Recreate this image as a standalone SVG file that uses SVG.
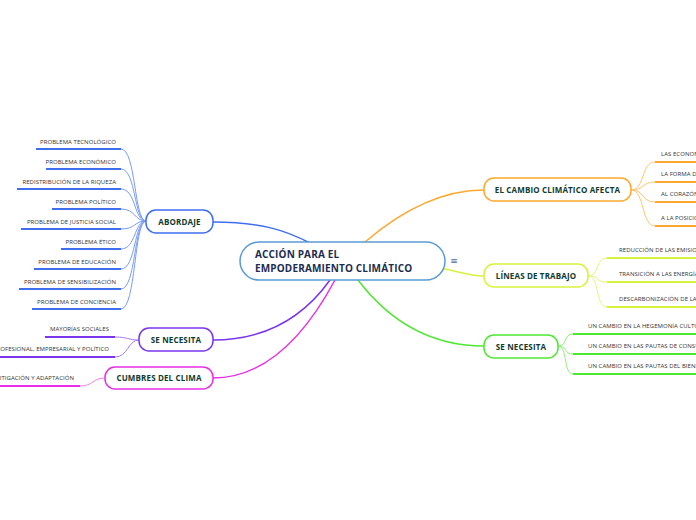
<svg xmlns="http://www.w3.org/2000/svg" width="696" height="520" viewBox="0 0 696 520">
<style>
.node{fill:#fff;stroke-width:1.5}
.nt{font-family:"Open Sans","Noto Sans",sans-serif;font-weight:bold;font-size:8px;fill:#0f3b2e;text-anchor:middle;letter-spacing:0.15px}
.lt{font-family:"Open Sans","Noto Sans",sans-serif;font-size:6px;fill:#333;letter-spacing:0.05px}
.le{text-anchor:end}
.ul{fill:none;stroke-width:2}
.c{fill:none}
.ct{font-family:"Open Sans","Noto Sans",sans-serif;font-weight:bold;font-size:10px;fill:#1c2d4f;letter-spacing:0.15px}
</style>
<rect width="696" height="520" fill="#fff"/>
<g id="connectors">
  <path class="c" d="M310,243 C285,230 260,222 213,222" stroke="#3f6ef0" stroke-width="1.5"/>
  <path class="c" d="M365,242 C400,212 440,190 484,190" stroke="#ffa82e" stroke-width="1.5"/>
  <path class="c" d="M440,268 C460,272 470,276 484,276" stroke="#d8f23a" stroke-width="1.5"/>
  <path class="c" d="M358,280 C390,322 430,346 484,346" stroke="#4de830" stroke-width="1.5"/>
  <path class="c" d="M330,280 C300,322 260,340 213,340" stroke="#7a35ee" stroke-width="1.5"/>
  <path class="c" d="M335,280 C300,345 260,378 213,378" stroke="#e82ee6" stroke-width="1.5"/>
  <g stroke="#7b9cf6" stroke-width="1" fill="none">
    <path d="M121,149 C136,149 134,221 146,221"/>
    <path d="M121,169 C136,169 134,221 146,221"/>
    <path d="M121,189 C136,189 134,221 146,221"/>
    <path d="M121,209 C136,209 134,221 146,221"/>
    <path d="M121,229 C136,229 134,221 146,221"/>
    <path d="M121,249 C136,249 134,221 146,221"/>
    <path d="M121,269 C136,269 134,221 146,221"/>
    <path d="M121,289 C136,289 134,221 146,221"/>
    <path d="M121,309 C136,309 134,221 146,221"/>
  </g>
  <g stroke="#a67cf2" stroke-width="1" fill="none">
    <path d="M115,337 C128,337 128,340 139,340"/>
    <path d="M115,357 C128,357 128,340 139,340"/>
  </g>
  <path class="c" d="M80,386 C93,386 93,378 105,378" stroke="#f07ef0" stroke-width="1"/>
  <g stroke="#ffc56e" stroke-width="1" fill="none">
    <path d="M631,190 C645,190 641,162 655,162"/>
    <path d="M631,190 C645,190 641,182 655,182"/>
    <path d="M631,190 C645,190 641,202 655,202"/>
    <path d="M631,190 C645,190 641,226 655,226"/>
  </g>
  <g stroke="#e4f77a" stroke-width="1" fill="none">
    <path d="M588,276 C600,276 595,258 607,258"/>
    <path d="M588,276 C600,276 595,282 607,282"/>
    <path d="M588,276 C600,276 595,307 607,307"/>
  </g>
  <g stroke="#8ef07a" stroke-width="1" fill="none">
    <path d="M558,346 C568,346 563,334 573,334"/>
    <path d="M558,346 C568,346 563,354 573,354"/>
    <path d="M558,346 C568,346 563,374 573,374"/>
  </g>
</g>

<g id="central">
  <rect class="node" x="240" y="242" width="205" height="38" rx="19" stroke="#5b9bd5"/>
  <text class="ct" x="255" y="258">ACCIÓN PARA EL</text>
  <text class="ct" x="255" y="271.5">EMPODERAMIENTO CLIMÁTICO</text>
  <text x="454" y="264" font-family="'DejaVu Sans',sans-serif" font-size="9" fill="#4a6a9a" text-anchor="middle">≡</text>
</g>

<g id="abordaje">
  <rect class="node" x="146" y="210" width="67" height="23" rx="10" stroke="#3f6ef0"/>
  <text class="nt" x="179.5" y="224.5">ABORDAJE</text>
</g>
<g id="abordaje-leaves">
  <g stroke="#3f6ef0" class="ul">
    <line x1="36" y1="149" x2="121" y2="149"/>
    <line x1="46" y1="169" x2="121" y2="169"/>
    <line x1="17" y1="189" x2="121" y2="189"/>
    <line x1="52" y1="209" x2="121" y2="209"/>
    <line x1="21" y1="229" x2="121" y2="229"/>
    <line x1="61" y1="249" x2="121" y2="249"/>
    <line x1="34" y1="269" x2="121" y2="269"/>
    <line x1="19" y1="289" x2="121" y2="289"/>
    <line x1="32" y1="309" x2="121" y2="309"/>
  </g>
  <text class="lt le" x="116" y="144">PROBLEMA TECNOLÓGICO</text>
  <text class="lt le" x="116" y="164">PROBLEMA ECONÓMICO</text>
  <text class="lt le" x="116" y="184">REDISTRIBUCIÓN DE LA RIQUEZA</text>
  <text class="lt le" x="116" y="204">PROBLEMA POLÍTICO</text>
  <text class="lt le" x="116" y="224">PROBLEMA DE JUSTICIA SOCIAL</text>
  <text class="lt le" x="116" y="244">PROBLEMA ÉTICO</text>
  <text class="lt le" x="116" y="264">PROBLEMA DE EDUCACIÓN</text>
  <text class="lt le" x="116" y="284">PROBLEMA DE SENSIBILIZACIÓN</text>
  <text class="lt le" x="116" y="304">PROBLEMA DE CONCIENCIA</text>
</g>

<g id="se-necesita-left">
  <rect class="node" x="139" y="328" width="74" height="23" rx="10" stroke="#7a35ee"/>
  <text class="nt" x="176" y="342.5">SE NECESITA</text>
</g>
<g id="se-necesita-left-leaves">
  <line class="ul" x1="45" y1="337" x2="115" y2="337" stroke="#7a35ee"/>
  <line class="ul" x1="0" y1="357" x2="115" y2="357" stroke="#7a35ee"/>
  <text class="lt le" x="109" y="331">MAYORÍAS SOCIALES</text>
  <text class="lt le" x="109" y="351">PROFESIONAL, EMPRESARIAL Y POLÍTICO</text>
</g>

<g id="cumbres">
  <rect class="node" x="105" y="367" width="108" height="22" rx="10" stroke="#e82ee6"/>
  <text class="nt" x="159" y="381">CUMBRES DEL CLIMA</text>
</g>
<g id="cumbres-leaves">
  <line class="ul" x1="0" y1="386" x2="80" y2="386" stroke="#e82ee6"/>
  <text class="lt le" x="74" y="380">MITIGACIÓN Y ADAPTACIÓN</text>
</g>

<g id="cambio">
  <rect class="node" x="484" y="178" width="147" height="23" rx="10" stroke="#ffa82e"/>
  <text class="nt" x="557.5" y="192.5">EL CAMBIO CLIMÁTICO AFECTA</text>
</g>
<g id="cambio-leaves">
  <g stroke="#ffa82e" class="ul">
    <line x1="655" y1="162" x2="700" y2="162"/>
    <line x1="655" y1="182" x2="700" y2="182"/>
    <line x1="655" y1="202" x2="700" y2="202"/>
    <line x1="655" y1="226" x2="700" y2="226"/>
  </g>
  <text class="lt" x="661" y="156">LAS ECONOMÍAS</text>
  <text class="lt" x="661" y="176">LA FORMA DE</text>
  <text class="lt" x="661" y="196">AL CORAZÓN</text>
  <text class="lt" x="661" y="220">A LA POSICIÓN</text>
</g>

<g id="lineas">
  <rect class="node" x="484" y="264" width="104" height="23" rx="10" stroke="#d8f23a"/>
  <text class="nt" x="536" y="278.5">LÍNEAS DE TRABAJO</text>
</g>
<g id="lineas-leaves">
  <g stroke="#d8f23a" class="ul">
    <line x1="607" y1="258" x2="700" y2="258"/>
    <line x1="607" y1="282" x2="700" y2="282"/>
    <line x1="607" y1="307" x2="700" y2="307"/>
  </g>
  <text class="lt" x="619" y="252">REDUCCIÓN DE LAS EMISIONES</text>
  <text class="lt" x="619" y="276">TRANSICIÓN A LAS ENERGÍAS</text>
  <text class="lt" x="619" y="301">DESCARBONIZACIÓN DE LA</text>
</g>

<g id="se-necesita-right">
  <rect class="node" x="484" y="335" width="74" height="23" rx="10" stroke="#4de830"/>
  <text class="nt" x="521" y="349.5">SE NECESITA</text>
</g>
<g id="se-necesita-right-leaves">
  <g stroke="#4de830" class="ul">
    <line x1="573" y1="334" x2="700" y2="334"/>
    <line x1="573" y1="354" x2="700" y2="354"/>
    <line x1="573" y1="374" x2="700" y2="374"/>
  </g>
  <text class="lt" x="588" y="328">UN CAMBIO EN LA HEGEMONÍA CULTURAL</text>
  <text class="lt" x="588" y="348">UN CAMBIO EN LAS PAUTAS DE CONSUMO</text>
  <text class="lt" x="588" y="368">UN CAMBIO EN LAS PAUTAS DEL BIENESTAR</text>
</g>
</svg>
